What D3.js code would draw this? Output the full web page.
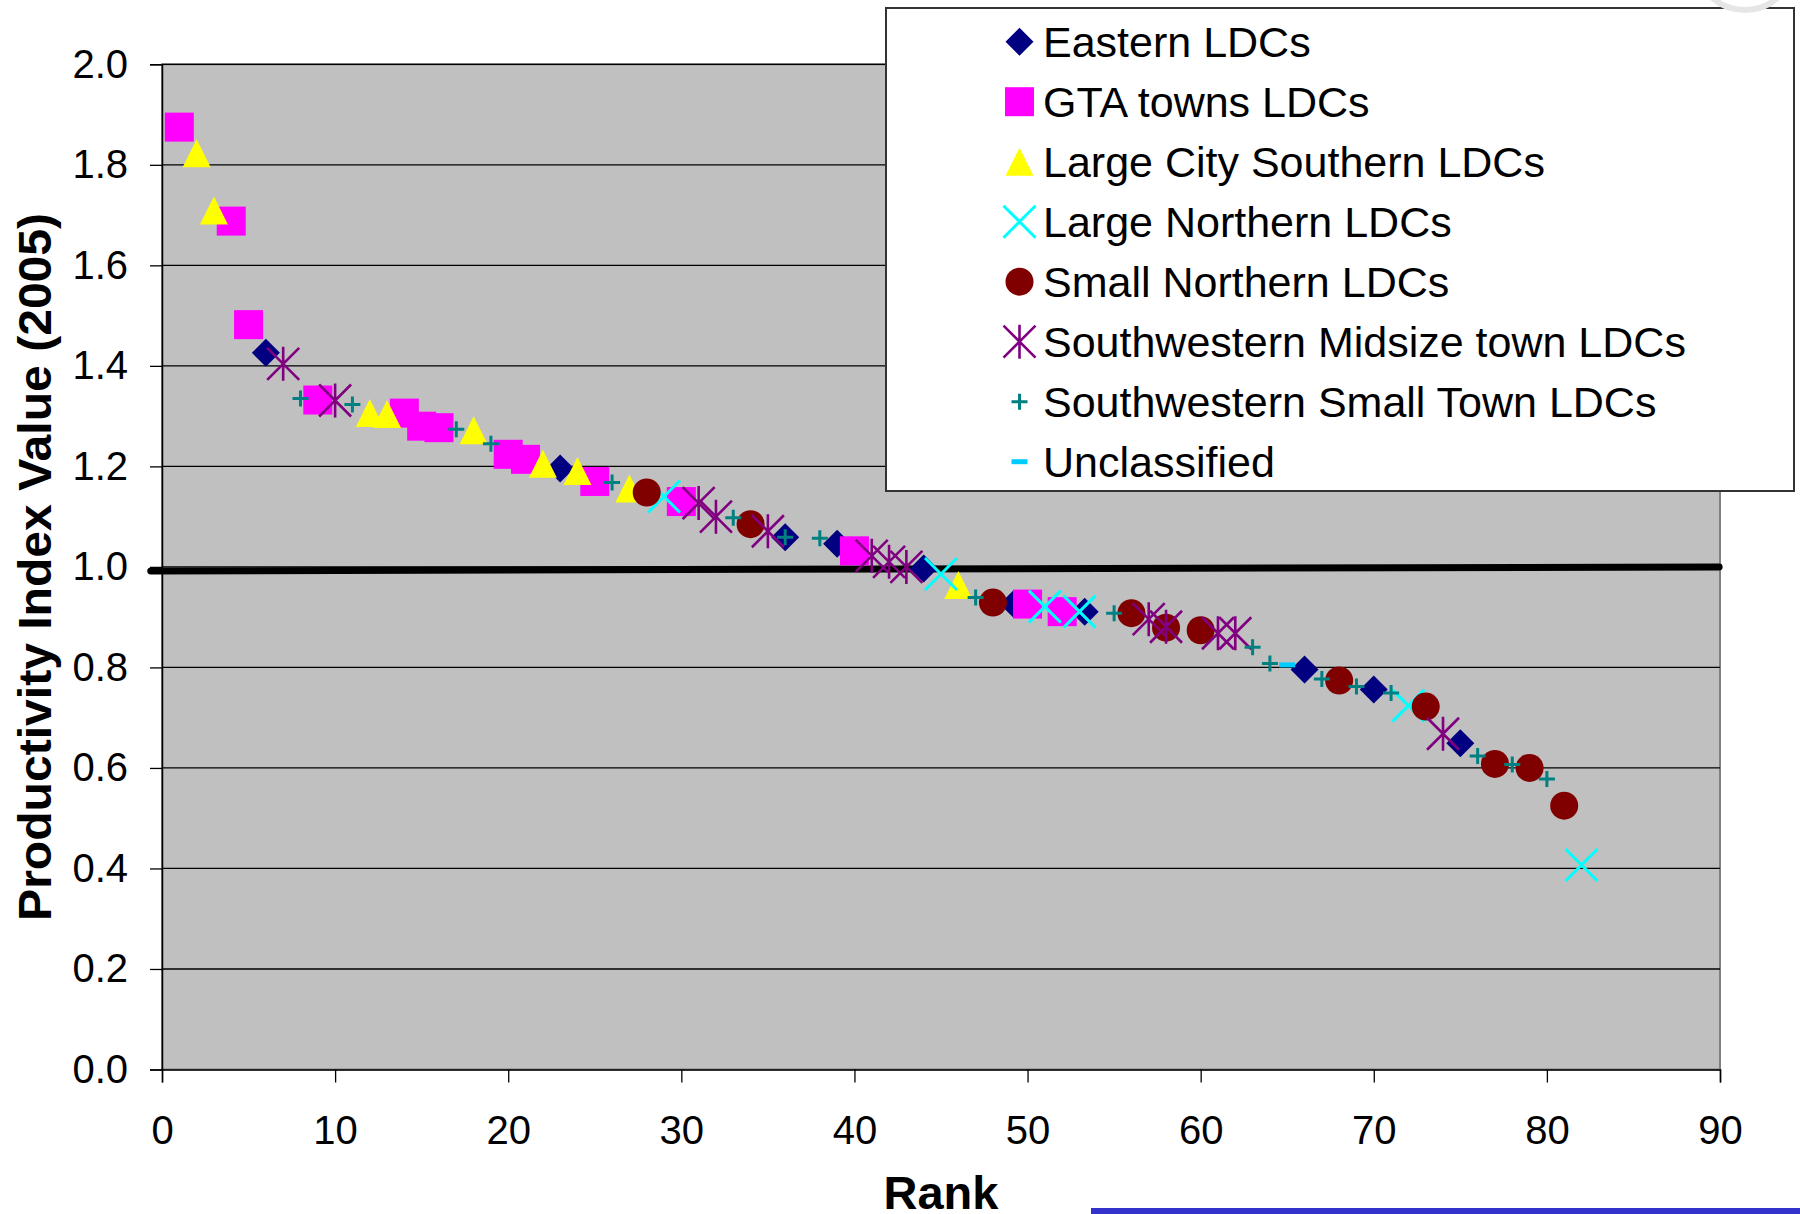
<!DOCTYPE html>
<html>
<head>
<meta charset="utf-8">
<script src="https://cdn.jsdelivr.net/npm/d3@7/dist/d3.min.js"></script>
<style>
    body { margin: 0; background: #fff; }
    text { font-family: "Liberation Sans", Arial, sans-serif; }
</style>
</head>
<body>
<div id="app"></div>
<script>
// [rank, productivity index] per group
const eastern = [[6, 1.426], [23, 1.196], [36, 1.059], [39, 1.046], [44, 0.997], [49.2, 0.926],
    [53.3, 0.911], [66, 0.796], [70, 0.756], [75, 0.649]];
const gtaTowns = [[1, 1.875], [4, 1.688], [5, 1.482], [9, 1.332], [14, 1.306], [15, 1.280], [16, 1.277],
    [20, 1.224], [21, 1.214], [25, 1.170], [30, 1.130], [40, 1.032], [50, 0.926], [52, 0.911]];
const largeCitySouthern = [[2, 1.823], [3, 1.709], [12, 1.306], [13, 1.304], [18, 1.272], [22, 1.205],
    [24, 1.191], [27, 1.156], [46, 0.964]];
const largeNorthern = [[29, 1.140], [45, 0.986], [51, 0.921], [53, 0.911], [72, 0.724], [82, 0.407]];
const smallNorthern = [[28, 1.148], [34, 1.085], [48, 0.929], [56, 0.908], [58, 0.879], [60, 0.874],
    [68, 0.774], [73, 0.722], [77, 0.608], [79, 0.600], [81, 0.525]];
const swMidsize = [[7, 1.404], [10, 1.331], [31, 1.127], [32, 1.100], [35, 1.071], [41, 1.022],
    [42, 1.010], [43, 1.000], [57, 0.896], [58, 0.881], [61, 0.868], [62, 0.868], [74, 0.668]];
const swSmallTown = [[8, 1.335], [11, 1.323], [17, 1.274], [19, 1.245], [26, 1.168], [33, 1.098],
    [36, 1.059], [38, 1.057], [47, 0.939], [55, 0.908], [63, 0.840], [64, 0.808], [67, 0.777],
    [69, 0.762], [71, 0.749], [76, 0.624], [78, 0.607], [80, 0.578]];
const unclassified = [[65, 0.805]];

const benchmark = [[-0.65, 0.992], [89.95, 1.0]];

const seriesNames = ["Eastern LDCs", "GTA towns LDCs", "Large City Southern LDCs", "Large Northern LDCs",
    "Small Northern LDCs", "Southwestern Midsize town LDCs", "Southwestern Small Town LDCs", "Unclassified"];
const yTicks = [0, 0.2, 0.4, 0.6, 0.8, 1.0, 1.2, 1.4, 1.6, 1.8, 2.0];
const xTicks = [0, 10, 20, 30, 40, 50, 60, 70, 80, 90];

// marker drawers, each appends a shape centred on 0,0
const markers = {
    diamond: (g, c) => g.append('path').attr('d', 'M0,-14L14,0L0,14L-14,0Z').attr('fill', c),
    square: (g, c) => g.append('rect').attr('x', -14.5).attr('y', -14.5).attr('width', 29).attr('height', 29).attr('fill', c),
    triangle: (g, c) => g.append('path').attr('d', 'M0,-14L14,14L-14,14Z').attr('fill', c),
    xcross: (g, c) => g.append('path').attr('d', 'M-16,-16L16,16M16,-16L-16,16')
        .attr('stroke', c).attr('stroke-width', 3).attr('fill', 'none'),
    circle: (g, c) => g.append('circle').attr('r', 14).attr('fill', c),
    asterisk: (g, c) => g.append('path').attr('d', 'M-16,-16L16,16M16,-16L-16,16M0,-17V17')
        .attr('stroke', c).attr('stroke-width', 2.6).attr('fill', 'none'),
    plus: (g, c) => g.append('path').attr('d', 'M-8,0H8M0,-8V8')
        .attr('stroke', c).attr('stroke-width', 3).attr('fill', 'none'),
    dash: (g, c) => g.append('rect').attr('x', -8).attr('y', -2.5).attr('width', 16).attr('height', 5).attr('fill', c)
};

const series = [
    { name: seriesNames[0], data: eastern, shape: 'diamond', color: '#000080' },
    { name: seriesNames[1], data: gtaTowns, shape: 'square', color: '#ff00ff' },
    { name: seriesNames[2], data: largeCitySouthern, shape: 'triangle', color: '#ffff00' },
    { name: seriesNames[3], data: largeNorthern, shape: 'xcross', color: '#00ffff' },
    { name: seriesNames[4], data: smallNorthern, shape: 'circle', color: '#800000' },
    { name: seriesNames[5], data: swMidsize, shape: 'asterisk', color: '#800080' },
    { name: seriesNames[6], data: swSmallTown, shape: 'plus', color: '#008080' },
    { name: seriesNames[7], data: unclassified, shape: 'dash', color: '#00ccff' }
];

const draw = () => {

    const width = 1800;
    const height = 1214;

    const svg = d3.select('#app')
        .append('svg')
        .attr('width', width)
        .attr('height', height);

    const x = d3.scaleLinear().domain([0, 90]).range([162, 1720]);
    const y = d3.scaleLinear().domain([0, 2]).range([1069.5, 64.3]);

    // plot area
    svg.append('rect')
        .attr('x', x(0)).attr('y', y(2))
        .attr('width', x(90) - x(0)).attr('height', y(0) - y(2))
        .attr('fill', '#c0c0c0')
        .attr('stroke', '#808080').attr('stroke-width', 2);

    svg.append('g')
        .selectAll('line')
        .data(yTicks.filter(d => d > 0))
        .enter()
        .append('line')
        .attr('x1', x(0)).attr('x2', x(90))
        .attr('y1', d => y(d)).attr('y2', d => y(d))
        .attr('stroke', '#000').attr('stroke-width', 1.3);

    // axes
    const yAxis = svg.append('g')
        .attr('transform', 'translate(' + x(0) + ',0)')
        .call(d3.axisLeft(y).tickValues(yTicks).tickFormat(d3.format('.1f')).tickSize(12).tickPadding(22));
    const xAxis = svg.append('g')
        .attr('transform', 'translate(0,' + y(0) + ')')
        .call(d3.axisBottom(x).tickValues(xTicks).tickSize(13).tickPadding(33));

    [yAxis, xAxis].forEach(a => {
        a.select('.domain').attr('stroke', '#000').attr('stroke-width', 1.5);
        a.selectAll('.tick line').attr('stroke', '#000').attr('stroke-width', 1.3);
        a.selectAll('.tick text')
            .attr('font-size', 40)
            .attr('fill', '#000')
            .style('font-family', '"Liberation Sans", Arial, sans-serif');
    });
    xAxis.selectAll('.tick text').attr('dy', '0.71em');

    // 1.0 benchmark line
    svg.append('path')
        .datum(benchmark)
        .attr('d', d3.line().x(d => x(d[0])).y(d => y(d[1])))
        .attr('fill', 'none')
        .attr('stroke', '#000')
        .attr('stroke-width', 7)
        .attr('stroke-linecap', 'round');

    // points
    series.forEach(s => {
        svg.append('g')
            .selectAll('g')
            .data(s.data)
            .enter()
            .append('g')
            .attr('transform', d => 'translate(' + x(d[0]) + ',' + y(d[1]) + ')')
            .each(function () { markers[s.shape](d3.select(this), s.color); });
    });

    // axis titles
    svg.append('text')
        .text('Rank')
        .attr('x', (x(0) + x(90)) / 2)
        .attr('y', 1209)
        .attr('text-anchor', 'middle')
        .attr('font-size', 47)
        .attr('font-weight', 'bold');

    svg.append('text')
        .text('Productivity Index Value (2005)')
        .attr('transform', 'translate(51,' + ((y(0) + y(2)) / 2) + ') rotate(-90)')
        .attr('text-anchor', 'middle')
        .attr('font-size', 47)
        .attr('font-weight', 'bold')
        .attr('textLength', 708)
        .attr('lengthAdjust', 'spacingAndGlyphs');

    // legend
    const legend = svg.append('g');
    legend.append('rect')
        .attr('x', 886).attr('y', 8)
        .attr('width', 908).attr('height', 483)
        .attr('fill', '#fff')
        .attr('stroke', '#333').attr('stroke-width', 2);

    const items = legend.selectAll('g.item')
        .data(series)
        .enter()
        .append('g')
        .attr('class', 'item')
        .attr('transform', (d, i) => 'translate(1019.5,' + (41.7 + i * 60) + ')');

    items.each(function (d) { markers[d.shape](d3.select(this), d.color); });

    items.append('text')
        .text(d => d.name)
        .attr('x', 23.5)
        .attr('y', 15)
        .attr('font-size', 43)
        .attr('fill', '#000');

    // slide decorations
    svg.append('circle')
        .attr('cx', 1745).attr('cy', -40).attr('r', 50)
        .attr('fill', 'none').attr('stroke', '#e6e6e6').attr('stroke-width', 6);
    svg.append('rect')
        .attr('x', 1091).attr('y', 1208)
        .attr('width', 709).attr('height', 6)
        .attr('fill', '#3333cc');
};

draw();
</script>
</body>
</html>
